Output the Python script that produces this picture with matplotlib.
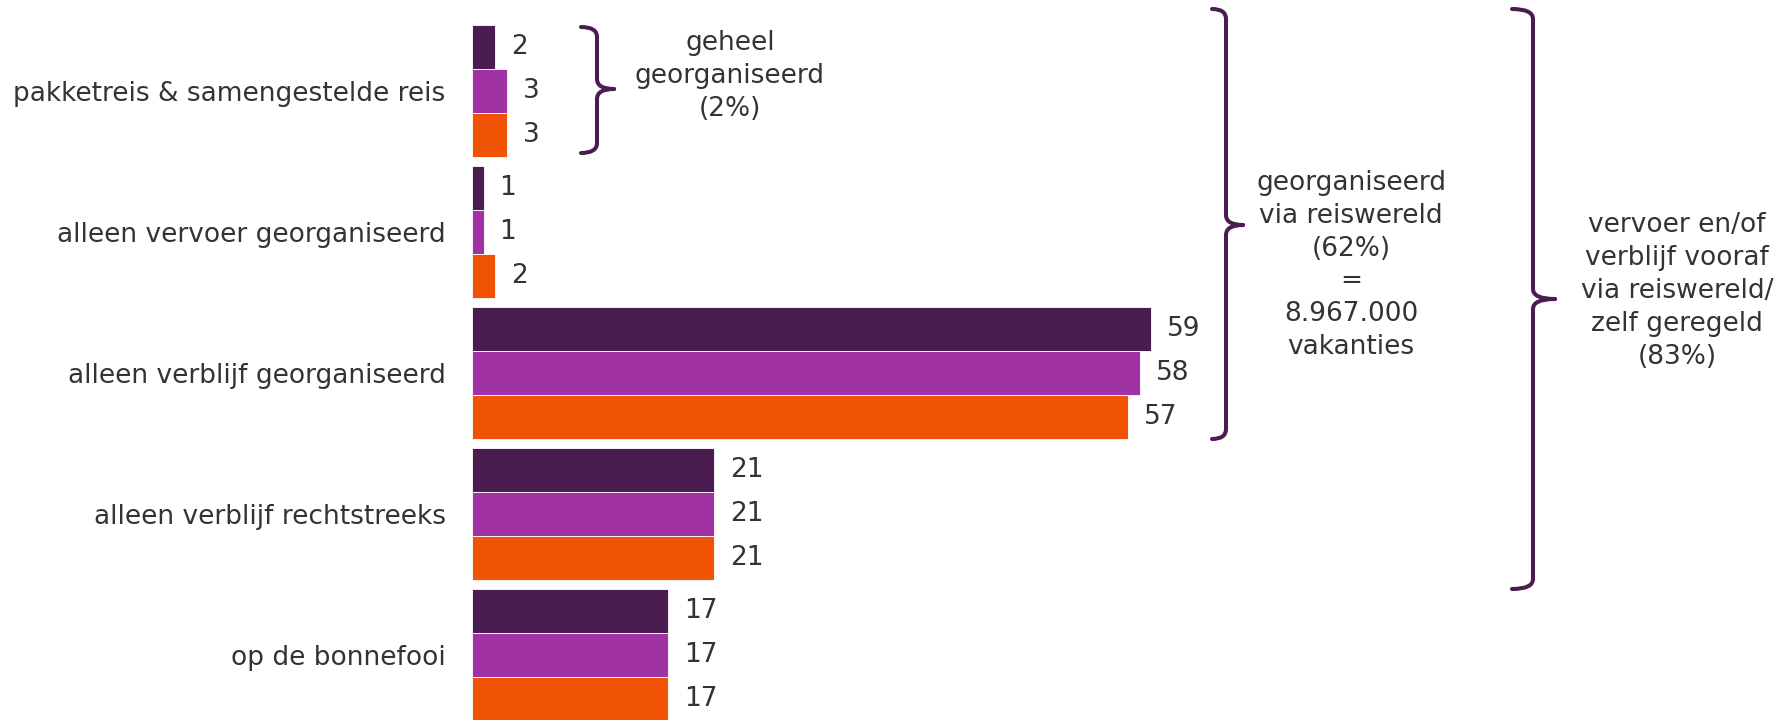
import numpy as np
import matplotlib
matplotlib.use('Agg')
import matplotlib.pyplot as plt
from matplotlib.path import Path
from matplotlib.patches import PathPatch

# data
categories = ['pakketreis & samengestelde reis', 'alleen vervoer georganiseerd',
              'alleen verblijf georganiseerd', 'alleen verblijf rechtstreeks',
              'op de bonnefooi']
series_1 = [2, 1, 59, 21, 17]
series_2 = [3, 1, 58, 21, 17]
series_3 = [3, 2, 57, 21, 17]
colors = ['#4B1C50', '#A032A4', '#F05206']

txt_col = '#333333'
brace_col = '#4B1C50'
plt.rcParams['font.family'] = ['DejaVu Sans']
fs = 19

W, H = 1789, 720
fig = plt.figure(figsize=(W / 100, H / 100), dpi=100)
ax = fig.add_axes([472 / W, (720 - 725.9) / H, 1317 / W, 705 / H])

y = np.arange(len(categories))
h = 0.312
for i, vals in enumerate([series_1, series_2, series_3]):
    pos = y + (i - 1) * h
    ax.barh(pos, vals, height=h, color=colors[i], edgecolor='white', linewidth=0.6)
    for p, v in zip(pos, vals):
        ax.annotate(str(v), (v, p), xytext=(11.5, 0), textcoords='offset points',
                    ha='left', va='center', fontsize=fs, color=txt_col)

ax.set_xlim(0, 1317 / 11.51)
ax.set_ylim(len(categories) - 0.5, -0.5)
ax.set_yticks(y)
ax.set_yticklabels(categories, fontsize=fs, color=txt_col)
ax.tick_params(axis='y', length=0, pad=19)
ax.set_xticks([])
for s in ax.spines.values():
    s.set_visible(False)

# overlay in pixel coordinates for the braces and group notes
ov = fig.add_axes([0, 0, 1, 1])
ov.set_xlim(0, W)
ov.set_ylim(H, 0)
ov.axis('off')


def brace(x0, x1, xt, ytop, ymid, ybot, r=10):
    verts = [(x0, ytop), (x1, ytop), (x1, ytop + r),
             (x1, ymid - r), (x1, ymid), (xt, ymid),
             (xt, ymid), (x1, ymid), (x1, ymid + r),
             (x1, ybot - r), (x1, ybot), (x0, ybot)]
    codes = [Path.MOVETO, Path.CURVE3, Path.CURVE3,
             Path.LINETO, Path.CURVE3, Path.CURVE3,
             Path.MOVETO, Path.CURVE3, Path.CURVE3,
             Path.LINETO, Path.CURVE3, Path.CURVE3]
    ov.add_patch(PathPatch(Path(verts, codes), fill=False, lw=2.9,
                           edgecolor=brace_col, capstyle='round', joinstyle='round'))


brace(581, 597, 614, 27, 89, 153)
brace(1212, 1226, 1243, 9, 225, 439)
brace(1512, 1533, 1555, 9, 299, 589)

ls = 1.34
ov.text(730, 76, 'geheel\ngeorganiseerd\n(2%)', ha='center', va='center',
        fontsize=fs, color=txt_col, linespacing=ls)
ov.text(1351, 265, 'georganiseerd\nvia reiswereld\n(62%)\n=\n8.967.000\nvakanties',
        ha='center', va='center', fontsize=fs, color=txt_col, linespacing=ls)
ov.text(1677, 291, 'vervoer en/of\nverblijf vooraf\nvia reiswereld/\nzelf geregeld\n(83%)',
        ha='center', va='center', fontsize=fs, color=txt_col, linespacing=ls)

fig.savefig('out.png', dpi=100)
